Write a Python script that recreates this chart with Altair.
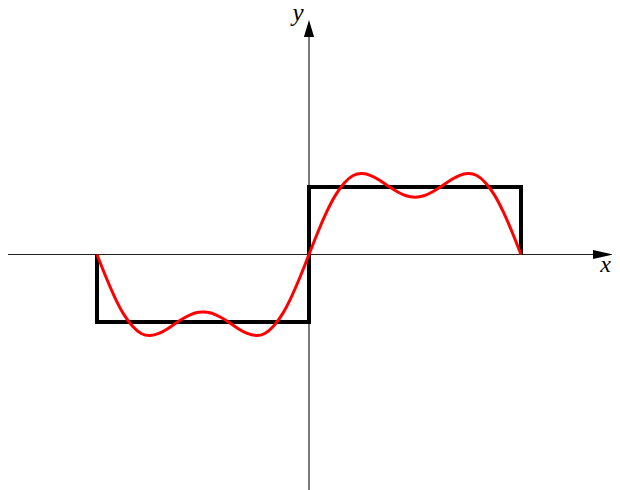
import altair as alt
import pandas as pd

# x in units of pi, y in units of the square-wave amplitude
square_x = [-1, -1, 0, 0, 1, 1]
square_y = [0, -1, -1, 1, 1, 0]

fourier_x = [k / 24 for k in range(-24, 25)]
fourier_pos = [0, 0.33, 0.63, 0.88, 1.06, 1.17, 1.20, 1.17, 1.10, 1.01, 0.93, 0.87,
               0.85, 0.87, 0.93, 1.01, 1.10, 1.17, 1.20, 1.17, 1.06, 0.88, 0.63, 0.33, 0]
fourier_y = [-v for v in fourier_pos[::-1]][:-1] + fourier_pos

axis_labels = ["x", "y"]

W, H = 604, 482
xdom = [-301 / 212, (W - 301) / 212]
ydom = [(246.5 - H) / 67.5, 246.5 / 67.5]

xs = alt.Scale(domain=xdom, nice=False, zero=False)
ys = alt.Scale(domain=ydom, nice=False, zero=False)

sq = pd.DataFrame({"x": square_x, "y": square_y, "o": list(range(len(square_x)))})
fr = pd.DataFrame({"x": fourier_x, "y": fourier_y, "o": list(range(len(fourier_x)))})
zero = pd.DataFrame({"z": [0]})

haxis = alt.Chart(zero).mark_rule(color="#222", strokeWidth=1.2).encode(
    y=alt.Y("z:Q", scale=ys, axis=None),
    x=alt.value(-2), x2=alt.value(587))
vaxis = alt.Chart(zero).mark_rule(color="#222", strokeWidth=1.2).encode(
    x=alt.X("z:Q", scale=xs, axis=None),
    y=alt.value(26), y2=alt.value(H))
harrow = alt.Chart(zero).mark_point(
    shape="M -1 -0.45 L 1 0 L -1 0.45 Z", filled=True, color="black", opacity=1, size=400
).encode(y=alt.Y("z:Q", scale=ys, axis=None), x=alt.value(595))
varrow = alt.Chart(zero).mark_point(
    shape="M -0.6 1 L 0 -1 L 0.6 1 Z", filled=True, color="black", opacity=1, size=289
).encode(x=alt.X("z:Q", scale=xs, axis=None), y=alt.value(20.5))

xlab = alt.Chart(pd.DataFrame({"t": [axis_labels[0]]})).mark_text(
    font="Liberation Serif", fontStyle="italic", fontSize=24, align="right",
    baseline="alphabetic", color="black"
).encode(text="t:N", x=alt.value(W - 1), y=alt.value(264))
ylab = alt.Chart(pd.DataFrame({"t": [axis_labels[1]]})).mark_text(
    font="Liberation Serif", fontStyle="italic", fontSize=25, align="center",
    baseline="alphabetic", color="black"
).encode(text="t:N", x=alt.value(290), y=alt.value(13))

square = alt.Chart(sq).mark_line(color="black", strokeWidth=4, strokeJoin="miter").encode(
    x=alt.X("x:Q", scale=xs, axis=None),
    y=alt.Y("y:Q", scale=ys, axis=None),
    order="o:Q")
fourier = alt.Chart(fr).mark_line(color="#ff0000", strokeWidth=3, interpolate="natural").encode(
    x=alt.X("x:Q", scale=xs, axis=None),
    y=alt.Y("y:Q", scale=ys, axis=None),
    order="o:Q")

chart = alt.layer(haxis, vaxis, harrow, varrow, square, fourier, xlab, ylab).properties(
    width=W, height=H, padding=0, autosize=alt.AutoSizeParams(type="none")
).configure_view(strokeWidth=0)

chart.save("out.html", embed_options={"renderer": "svg", "actions": False})
